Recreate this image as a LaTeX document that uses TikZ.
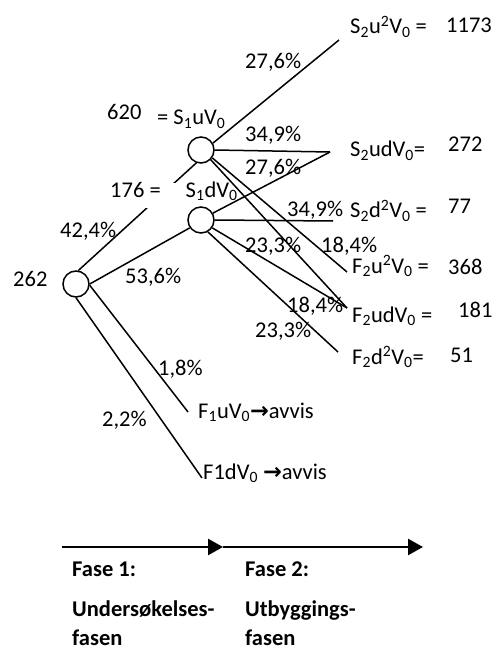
\documentclass[tikz,border=0pt]{standalone}
\usepackage{fontspec}
\setmainfont{Carlito}
\newfontfamily\arrowfont{DejaVu Sans}
\usetikzlibrary{arrows.meta}
\pgfdeclarelayer{front}
\pgfsetlayers{main,front}
\newcommand{\ix}[1]{\textsubscript{#1}}
\newcommand{\px}[1]{\textsuperscript{#1}}
\tikzset{
   chance/.style={circle, draw, fill=white, line width=1.5pt,
      minimum size=26pt, inner sep=0pt},
   branch/.style={draw, line width=1.5pt},
   lbl/.style={anchor=base west, inner sep=0pt,
      font=\fontsize{22.5}{27}\selectfont},
   phase/.style={draw, line width=2.5pt,
      -{Triangle[length=15pt,width=16pt]}},
   phasetext/.style={anchor=north west, inner sep=0pt, align=left,
      font=\fontsize{22.5}{29}\selectfont\bfseries},
}

\begin{document}
\begin{tikzpicture}[x=1pt,y=-1pt]
    \useasboundingbox (0,0) rectangle (492,652);
    % chance nodes
    \begin{pgfonlayer}{front}
        \node[chance] (root) at (76,284) {};
        \node[chance] (s1u) at (201,150) {};
        \node[chance] (s1d) at (201,220) {};
    \end{pgfonlayer}
    % end points
    \coordinate (s2uu) at (339,40);
    \coordinate (s2ud) at (330,152);
    \coordinate (s2dd) at (333,221);
    \coordinate (f2uu) at (347,272);
    \coordinate (f2ud) at (347,308);
    \coordinate (f2dd) at (338,352);
    \coordinate (f1u) at (188,412);
    \coordinate (f1d) at (202,478);

    % fase 1
    \draw[branch] (root.80) -- (s1u.250);
    \node[lbl, fill=white, inner xsep=3pt, text height=14pt, text depth=11pt]
        (v176) at (107,197) {176 =\hspace{25pt}S\ix{1}dV\ix{0}};
    \draw[branch] (root.east) -- (s1d.215);
    \draw[branch] (root.-5) -- (f1u);
    \draw[branch] (root.south) -- (f1d);
    % fase 2
    \draw[branch] (s1u.30) -- (s2uu);
    \draw[branch] (s1u.east) -- (s2ud);
    \draw[branch] (s1u.-35) -- (f2uu);
    \draw[branch] (s1u.-45) -- (f2ud);
    \draw[branch] (s1d.30) -- (s2ud);
    \draw[branch] (s1d.east) -- (s2dd);
    \draw[branch] (s1d.-35) -- (f2ud);
    \draw[branch] (s1d.-60) -- (f2dd);

    % values and probabilities
    \node[lbl] (v262) at (13,286) {262};
    \node[lbl] (p424) at (60,237) {42,4\%};
    \node[lbl] (p536) at (125,283) {53,6\%};
    \node[lbl] (v620) at (107,120) {620};
    \node[lbl] (s1uv) at (157,125) {= S\ix{1}uV\ix{0}};
    \node[lbl] (puu1) at (245,69) {27,6\%};
    \node[lbl] (s2uuv) at (350,34) {S\ix{2}u\px{2}V\ix{0} =};
    \node[lbl] (v1173) at (446,33) {1173};
    \node[lbl] (pud1) at (245,142) {34,9\%};
    \node[lbl] (pdu1) at (245,175) {27,6\%};
    \node[lbl] (s2udv) at (350,157) {S\ix{2}udV\ix{0}=};
    \node[lbl] (v272) at (448,152) {272};
    \node[lbl] (pdd1) at (287,216) {34,9\%};
    \node[lbl] (s2ddv) at (350,218) {S\ix{2}d\px{2}V\ix{0} =};
    \node[lbl] (v77) at (448,213) {77};
    \node[lbl] (pfu1) at (245,252) {23,3\%};
    \node[lbl] (pfu2) at (321,252) {18,4\%};
    \node[lbl] (f2uuv) at (352,273) {F\ix{2}u\px{2}V\ix{0} =};
    \node[lbl] (v368) at (448,274) {368};
    \node[lbl] (pfd1) at (287,312) {18,4\%};
    \node[lbl] (f2udv) at (352,322) {F\ix{2}udV\ix{0} =};
    \node[lbl] (v181) at (458,317) {181};
    \node[lbl] (pfd2) at (255,337) {23,3\%};
    \node[lbl] (f2ddv) at (352,364) {F\ix{2}d\px{2}V\ix{0}=};
    \node[lbl] (v51) at (450,362) {51};
    \node[lbl] (p18) at (158,375) {1,8\%};
    \node[lbl] (p22) at (102,426) {2,2\%};
    \node[lbl] (f1uv) at (198,418) {F\ix{1}uV\ix{0}{\arrowfont\bfseries →}avvis};
    \node[lbl] (f1dv) at (203,479) {F1dV\ix{0} {\arrowfont\bfseries →}avvis};

    % time line
    \coordinate (t0) at (62,547);
    \coordinate (t1) at (223,547);
    \coordinate (t2) at (423,547);
    \draw[phase] (t0) -- (t1);
    \draw[phase] (t1) -- (t2);
    \node[phasetext] (fase1) at (72,562) {Fase 1:\\[11pt]Undersøkelses-\\fasen};
    \node[phasetext] (fase2) at (245,562) {Fase 2:\\[11pt]Utbyggings-\\fasen};
\end{tikzpicture}
\end{document}
